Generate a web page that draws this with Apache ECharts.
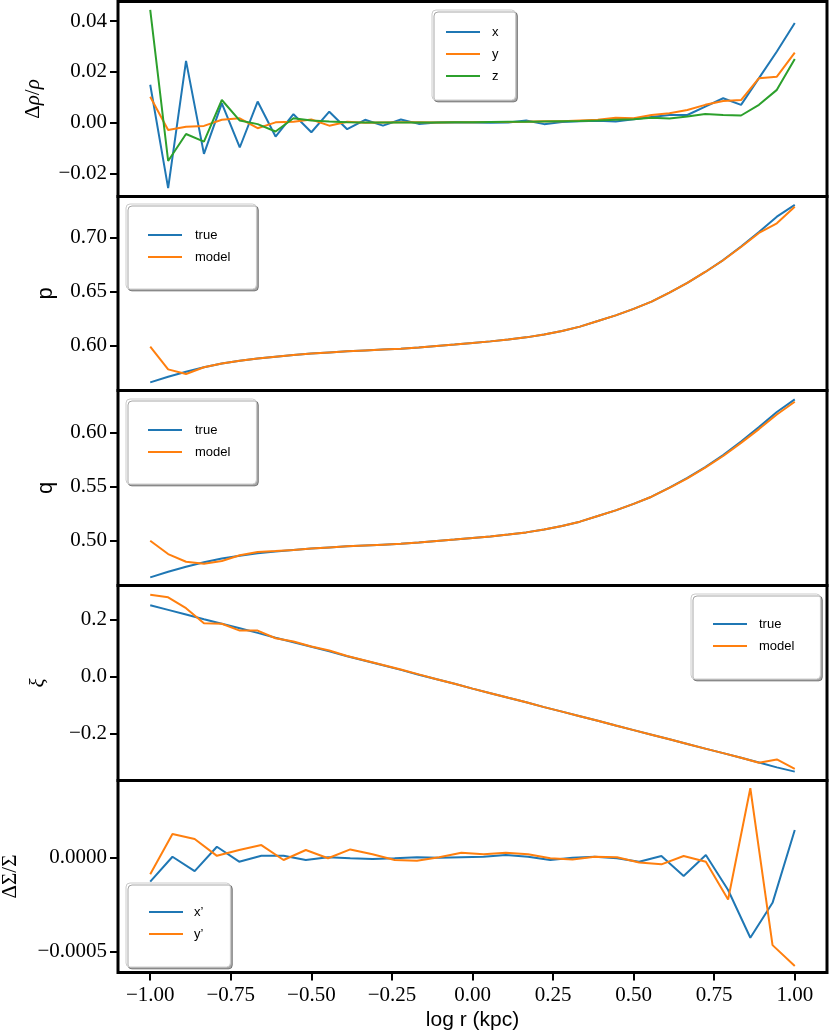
<!DOCTYPE html>
<html lang="en">
<head>
    <meta charset="UTF-8">
    <title>profiles</title>
    <script src="https://cdn.jsdelivr.net/npm/echarts@6.0.0/dist/echarts.min.js"></script>
    <style>
        body { margin: 0; background: #fff; }
        #box { width: 830px; height: 1035px; }
    </style>
</head>
<body>
<div id="box"></div>
<script>
    // sampling grids (log r)
    var xs37 = [-1, -0.9444, -0.8889, -0.8333, -0.7778, -0.7222, -0.6667, -0.6111, -0.5556, -0.5,
        -0.4444, -0.3889, -0.3333, -0.2778, -0.2222, -0.1667, -0.1111, -0.0556, 0, 0.0556,
        0.1111, 0.1667, 0.2222, 0.2778, 0.3333, 0.3889, 0.4444, 0.5, 0.5556, 0.6111,
        0.6667, 0.7222, 0.7778, 0.8333, 0.8889, 0.9444, 1];
    var xs30 = [-1, -0.9310, -0.8621, -0.7931, -0.7241, -0.6552, -0.5862, -0.5172, -0.4483, -0.3793,
        -0.3103, -0.2414, -0.1724, -0.1034, -0.0345, 0.0345, 0.1034, 0.1724, 0.2414, 0.3103,
        0.3793, 0.4483, 0.5172, 0.5862, 0.6552, 0.7241, 0.7931, 0.8621, 0.9310, 1];

    // panel 1: density residuals
    var rhoX = [0.0149, -0.0258, 0.0243, -0.0123, 0.0076, -0.0098, 0.0083, -0.0055, 0.0033, -0.0038,
        0.0043, -0.0026, 0.0011, -0.0012, 0.0012, -0.0005, 0.0000, 0.0001, 0.0000, -0.0001,
        0.0000, 0.0008, -0.0006, 0.0002, 0.0005, 0.0007, 0.0004, 0.0013, 0.0022, 0.0030,
        0.0030, 0.0063, 0.0096, 0.0070, 0.0175, 0.0280, 0.0392];
    var rhoY = [0.0102, -0.0029, -0.0016, -0.0013, 0.0011, 0.0017, -0.0022, 0.0001, 0.0003, 0.0012,
        -0.0012, 0.0003, -0.0001, 0.0000, 0.0001, 0.0001, 0.0000, 0.0001, 0.0001, 0.0002,
        0.0002, 0.0003, 0.0005, 0.0005, 0.0008, 0.0011, 0.0019, 0.0017, 0.0030, 0.0037,
        0.0050, 0.0070, 0.0085, 0.0089, 0.0175, 0.0181, 0.0276];
    var rhoZ = [0.0444, -0.0151, -0.0045, -0.0075, 0.0089, 0.0008, -0.0006, -0.0035, 0.0017, 0.0008,
        0.0004, 0.0001, 0.0000, 0.0000, 0.0000, 0.0000, 0.0000, 0.0001, 0.0001, 0.0002,
        0.0003, 0.0003, 0.0004, 0.0005, 0.0006, 0.0008, 0.0011, 0.0013, 0.0019, 0.0016,
        0.0024, 0.0034, 0.0030, 0.0028, 0.0070, 0.0129, 0.0251];

    // panel 2: p
    var pTrue = [0.5662, 0.5714, 0.5760, 0.5801, 0.5836, 0.5862, 0.5882, 0.5899, 0.5915, 0.5928,
        0.5938, 0.5948, 0.5956, 0.5964, 0.5972, 0.5984, 0.5998, 0.6011, 0.6025, 0.6040,
        0.6057, 0.6077, 0.6104, 0.6136, 0.6176, 0.6228, 0.6280, 0.6340, 0.6406, 0.6490,
        0.6580, 0.6680, 0.6790, 0.6915, 0.7048, 0.7190, 0.7298];
    var pModel = [0.5991, 0.5782, 0.5739, 0.5801, 0.5836, 0.5862, 0.5882, 0.5899, 0.5915, 0.5928,
        0.5938, 0.5948, 0.5956, 0.5964, 0.5972, 0.5984, 0.5998, 0.6011, 0.6025, 0.6040,
        0.6057, 0.6077, 0.6104, 0.6136, 0.6176, 0.6228, 0.6280, 0.6340, 0.6406, 0.6490,
        0.6580, 0.6680, 0.6788, 0.6910, 0.7040, 0.7129, 0.7282];

    // panel 3: q
    var qTrue = [0.4662, 0.4714, 0.4760, 0.4801, 0.4836, 0.4862, 0.4884, 0.4900, 0.4915, 0.4928,
        0.4938, 0.4948, 0.4956, 0.4964, 0.4972, 0.4984, 0.4998, 0.5011, 0.5025, 0.5040,
        0.5057, 0.5077, 0.5104, 0.5136, 0.5176, 0.5228, 0.5280, 0.5340, 0.5406, 0.5490,
        0.5580, 0.5680, 0.5790, 0.5915, 0.6048, 0.6188, 0.6304];
    var qModel = [0.5000, 0.4877, 0.4806, 0.4788, 0.4813, 0.4866, 0.4897, 0.4905, 0.4915, 0.4928,
        0.4938, 0.4948, 0.4956, 0.4964, 0.4972, 0.4984, 0.4998, 0.5011, 0.5025, 0.5040,
        0.5057, 0.5077, 0.5104, 0.5136, 0.5176, 0.5228, 0.5280, 0.5340, 0.5406, 0.5488,
        0.5576, 0.5674, 0.5782, 0.5903, 0.6030, 0.6165, 0.6282];

    // panel 4: xi
    var xiTrue = [0.251, 0.235, 0.219, 0.202, 0.186, 0.170, 0.154, 0.137, 0.121, 0.105,
        0.089, 0.072, 0.056, 0.040, 0.024, 0.007, -0.009, -0.025, -0.042, -0.058,
        -0.074, -0.090, -0.107, -0.123, -0.139, -0.155, -0.172, -0.188, -0.204, -0.220,
        -0.237, -0.253, -0.269, -0.285, -0.302, -0.319, -0.334];
    var xiModel = [0.288, 0.279, 0.241, 0.188, 0.186, 0.162, 0.162, 0.135, 0.124, 0.106,
        0.092, 0.073, 0.057, 0.041, 0.025, 0.008, -0.009, -0.025, -0.042, -0.058,
        -0.074, -0.090, -0.107, -0.123, -0.139, -0.155, -0.172, -0.188, -0.204, -0.220,
        -0.237, -0.253, -0.269, -0.285, -0.303, -0.291, -0.324];

    // panel 5: surface density residuals
    var sigX = [-0.000129, 0.000003, -0.000073, 0.000056, -0.000023, 0.000008, 0.000008, -0.000014, 0.000000, -0.000005,
        -0.000009, -0.000005, 0.000000, -0.000002, 0.000001, 0.000003, 0.000012, 0.000003, -0.000014, -0.000002,
        0.000003, -0.000005, -0.000023, 0.000007, -0.000099, 0.000012, -0.000173, -0.000426, -0.000241, 0.000145];
    var sigY = [-0.000090, 0.000124, 0.000097, 0.000008, 0.000039, 0.000065, -0.000014, 0.000039, -0.000005, 0.000042,
        0.000016, -0.000014, -0.000018, 0.000000, 0.000024, 0.000016, 0.000024, 0.000016, -0.000005, -0.000011,
        0.000003, 0.000000, -0.000027, -0.000037, 0.000007, -0.000023, -0.000223, 0.000366, -0.000465, -0.000576];

    // tick values
    var xTicks = [-1, -0.75, -0.5, -0.25, 0, 0.25, 0.5, 0.75, 1];
    var rhoTicks = [-0.02, 0, 0.02, 0.04];
    var pTicks = [0.60, 0.65, 0.70];
    var qTicks = [0.50, 0.55, 0.60];
    var xiTicks = [-0.2, 0, 0.2];
    var sigTicks = [-0.0005, 0];

    var blue = '#1f77b4', orange = '#ff7f0e', green = '#2ca02c';
    var serif = 'Liberation Serif';
    var sans = 'Liberation Sans';

    function pairs(xs, ys) {
        return xs.map(function (x, i) { return [x, ys[i]]; });
    }
    function fmt(d) {
        return function (v) {
            var s = Math.abs(v) < 1e-12 ? (0).toFixed(d) : v.toFixed(d);
            return s.replace('-', '\u2212');
        };
    }

    // panel frames
    var tops = [1.5, 196.5, 390.5, 585.5, 780.5];
    var heights = [195, 194, 195, 195, 192];
    var yRanges = [[-0.0291, 0.0477], [0.5587, 0.7376], [0.4587, 0.6386], [-0.3652, 0.3207], [-0.000610, 0.000407]];
    var yTicks = [rhoTicks, pTicks, qTicks, xiTicks, sigTicks];
    var yDigits = [2, 2, 2, 1, 4];

    var nameRich = {
        a: {fontFamily: serif, fontSize: 21, color: '#000'},
        b: {fontFamily: serif, fontSize: 21, fontStyle: 'italic', color: '#000'}
    };
    var yNames = ['{a|\u0394}{b|\u03c1}{a|/}{b|\u03c1}', 'p', 'q', '{b|\u03be}', '{a|\u0394\u03a3/\u03a3}'];
    var yNameGaps = [74, 61, 61, 69, 97];

    var grids = [], xAxes = [], yAxes = [];
    for (var k = 0; k < 5; k++) {
        grids.push({
            left: 118, right: 3, top: tops[k], height: heights[k],
            outerBoundsMode: 'none', containLabel: false,
            show: true, borderColor: '#000', borderWidth: 3, backgroundColor: 'transparent'
        });
        var last = (k === 4);
        xAxes.push({
            type: 'value', gridIndex: k, min: -1.1, max: 1.1,
            splitLine: {show: false},
            axisLine: {show: false, onZero: false},
            axisTick: {show: last, customValues: xTicks, length: 8, lineStyle: {color: '#000', width: 2}},
            axisLabel: {show: last, customValues: xTicks, margin: 12, formatter: fmt(2),
                fontFamily: serif, fontSize: 21, color: '#000'},
            name: last ? 'log r (kpc)' : '',
            nameLocation: 'middle', nameGap: 37,
            nameTextStyle: {fontFamily: sans, fontSize: 21, color: '#000'}
        });
        yAxes.push({
            type: 'value', gridIndex: k, min: yRanges[k][0], max: yRanges[k][1],
            splitLine: {show: false},
            axisLine: {show: false, onZero: false},
            axisTick: {show: true, customValues: yTicks[k], length: 8, lineStyle: {color: '#000', width: 2}},
            axisLabel: {customValues: yTicks[k], margin: 11, formatter: fmt(yDigits[k]),
                fontFamily: serif, fontSize: 21, color: '#000'},
            name: yNames[k],
            nameLocation: 'middle', nameGap: yNameGaps[k],
            nameTextStyle: (k === 1 || k === 2)
                ? {fontFamily: sans, fontSize: 22, color: '#000'}
                : {rich: nameRich}
        });
    }

    function line(name, xs, ys, color, k) {
        return {
            name: name, type: 'line', xAxisIndex: k, yAxisIndex: k,
            data: pairs(xs, ys), symbol: 'none', showSymbol: false,
            lineStyle: {color: color, width: 2}, itemStyle: {color: color},
            animation: false
        };
    }

    var legendBase = {
        orient: 'vertical', icon: 'rect', itemWidth: 34, itemHeight: 2, itemGap: 8,
        backgroundColor: '#fff', borderColor: '#cccccc', borderWidth: 1, borderRadius: 4,
        shadowColor: 'rgba(0,0,0,0.35)', shadowBlur: 0, shadowOffsetX: 2, shadowOffsetY: 2,
        selectedMode: false
    };
    function legend(data, left, top, padding, textPad) {
        return Object.assign({}, legendBase, {
            data: data, left: left, top: top, padding: padding,
            textStyle: {fontFamily: sans, fontSize: 13, color: '#000', lineHeight: 14, padding: [0, 0, 0, textPad]}
        });
    }

    var myChart = echarts.init(document.getElementById('box'));
    var option = {
        animation: false,
        backgroundColor: '#fff',
        grid: grids,
        xAxis: xAxes,
        yAxis: yAxes,
        legend: [
            legend(['x', 'y', 'z'], 432, 10, [15, 17, 17, 14], 7),
            legend(['true', 'model'], 126, 204, [24, 26, 25, 22], 8),
            legend(['true', 'model'], 126, 399, [24, 26, 25, 22], 8),
            legend(['true', 'model'], 691, 594, [23, 26, 26, 22], 7),
            legend(['x\u2019', 'y\u2019'], 126, 883, [22, 27, 26, 23], 6)
        ],
        series: [
            line('x', xs37, rhoX, blue, 0),
            line('y', xs37, rhoY, orange, 0),
            line('z', xs37, rhoZ, green, 0),
            line('true', xs37, pTrue, blue, 1),
            line('model', xs37, pModel, orange, 1),
            line('true', xs37, qTrue, blue, 2),
            line('model', xs37, qModel, orange, 2),
            line('true', xs37, xiTrue, blue, 3),
            line('model', xs37, xiModel, orange, 3),
            line('x\u2019', xs30, sigX, blue, 4),
            line('y\u2019', xs30, sigY, orange, 4)
        ]
    };
    myChart.setOption(option);
</script>
</body>
</html>
